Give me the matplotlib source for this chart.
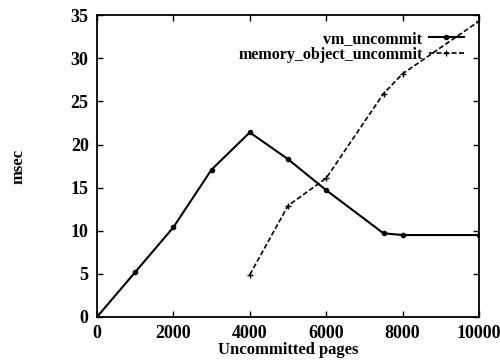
import matplotlib
matplotlib.use("Agg")
import matplotlib.pyplot as plt

# pages uncommitted vs time in msec
vm_pages = [0, 1000, 2000, 3000, 4000, 5000, 6000, 7500, 8000, 10000]
vm_msec = [0, 5.2, 10.4, 17.1, 21.4, 18.3, 14.7, 9.7, 9.5, 9.5]

mo_pages = [4000, 5000, 6000, 7500, 8000, 10000]
mo_msec = [4.9, 12.9, 16.1, 25.9, 28.2, 34.3]

plt.rcParams['font.family'] = ['Liberation Serif', 'DejaVu Serif']
plt.rcParams['font.weight'] = 'bold'

fig = plt.figure(figsize=(5, 3.61), dpi=100)
ax = fig.add_axes([0.194, 0.122, 0.764, 0.836])

ax.plot(vm_pages, vm_msec, color='black', lw=1.5, marker='o', ms=3,
        label='vm_uncommit')
ax.plot(mo_pages, mo_msec, color='black', lw=1.2, ls=(0, (3, 1.5)),
        marker='+', ms=4, label='memory_object_uncommit')

ax.set_xlim(0, 10000)
ax.set_ylim(0, 35)
ax.set_xticks(range(0, 10001, 2000))
ax.set_yticks(range(0, 36, 5))
ax.tick_params(direction='in', top=True, right=True, length=4, width=1,
               labelsize=13, pad=6)
for s in ax.spines.values():
    s.set_linewidth(1.3)

ax.set_xlabel('Uncommitted pages', fontsize=12, fontweight='bold', labelpad=0)
ax.set_ylabel('msec', fontsize=12, fontweight='bold', labelpad=32)

ax.legend(loc='upper right', frameon=False, markerfirst=False, fontsize=11.5,
          handlelength=2.2, handletextpad=0.4, borderaxespad=0.3,
          labelspacing=0.0, bbox_to_anchor=(0.99, 0.985))

fig.savefig('out.png', dpi=100)
